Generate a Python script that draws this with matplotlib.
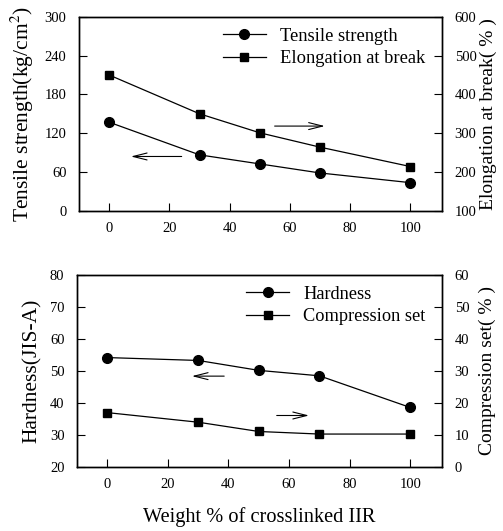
import matplotlib
matplotlib.use("Agg")
import matplotlib.pyplot as plt

plt.rcParams['font.family'] = ['Liberation Serif', 'DejaVu Serif']
plt.rcParams['mathtext.fontset'] = 'stix'

weight = [0, 30, 50, 70, 100]
tensile = [137, 86.5, 72.5, 58.5, 43.5]
elongation = [450, 350, 301, 264, 214]
hardness = [54.1, 53.2, 50.1, 48.4, 38.5]
compression = [16.9, 13.9, 11, 10.2, 10.2]

xticks = [0, 20, 40, 60, 80, 100]


def style(ax, ypad):
    ax.tick_params(direction='in', labelsize=10.5, length=6, width=0.8)
    ax.tick_params(axis='x', pad=8)
    ax.tick_params(axis='y', pad=ypad)
    for s in ax.spines.values():
        s.set_linewidth(1.0)


def arrow(ax, x0, x1, y):
    ax.annotate('', xy=(x1, y), xytext=(x0, y),
                arrowprops=dict(arrowstyle='->,head_length=1.0,head_width=0.25', lw=0.8, color='black'))


fig = plt.figure(figsize=(5.03, 5.31), dpi=100)

# top panel
ax1 = fig.add_axes([0.157, 0.603, 0.722, 0.3654])
ax1r = ax1.twinx()
l1, = ax1.plot(weight, tensile, '-o', color='black', ms=7, lw=0.9, label='Tensile strength')
l2, = ax1r.plot(weight, elongation, '-s', color='black', ms=6, lw=0.9, label='Elongation at break')
ax1.set_xlim(-10, 110.5)
ax1.set_ylim(0, 300)
ax1.set_yticks([0, 60, 120, 180, 240, 300])
ax1r.set_ylim(100, 600)
ax1r.set_yticks([100, 200, 300, 400, 500, 600])
ax1.set_xticks(xticks)
ax1.set_ylabel('Tensile strength(kg/cm$^2$)', fontsize=15.5, labelpad=6)
ax1r.set_ylabel('Elongation at break( % )', fontsize=14)
ax1r.yaxis.set_label_coords(1.103, 0.5)
style(ax1, 9)
style(ax1r, 9)
arrow(ax1, 25, 6.3, 84)
arrow(ax1, 54, 72.5, 131)
ax1.legend(handles=[l1, l2], loc='upper right', frameon=False, fontsize=13.3,
           handlelength=2.3, borderaxespad=0.2, labelspacing=0.3,
           bbox_to_anchor=(0.985, 1.0))

# bottom panel
ax2 = fig.add_axes([0.153, 0.1211, 0.726, 0.3616])
ax2r = ax2.twinx()
l3, = ax2.plot(weight, hardness, '-o', color='black', ms=7, lw=0.9, label='Hardness')
l4, = ax2r.plot(weight, compression, '-s', color='black', ms=6, lw=0.9, label='Compression set')
ax2.set_xlim(-10, 110.5)
ax2.set_ylim(20, 80)
ax2.set_yticks([20, 30, 40, 50, 60, 70, 80])
ax2r.set_ylim(0, 60)
ax2r.set_yticks([0, 10, 20, 30, 40, 50, 60])
ax2.set_xticks(xticks)
ax2.set_ylabel('Hardness(JIS-A)', fontsize=15.5, labelpad=6)
ax2r.set_ylabel('Compression set( % )', fontsize=14)
ax2r.yaxis.set_label_coords(1.1, 0.5)
ax2.set_xlabel('Weight % of crosslinked IIR', fontsize=14.7, labelpad=12)
style(ax2, 9)
style(ax2r, 9)
arrow(ax2, 39.5, 27, 48.3)
arrow(ax2, 55, 67.5, 36)
ax2.legend(handles=[l3, l4], loc='upper right', frameon=False, fontsize=13.2,
           handlelength=2.3, borderaxespad=0.2, labelspacing=0.3,
           bbox_to_anchor=(0.985, 1.0))

fig.savefig('out.png', dpi=100)
